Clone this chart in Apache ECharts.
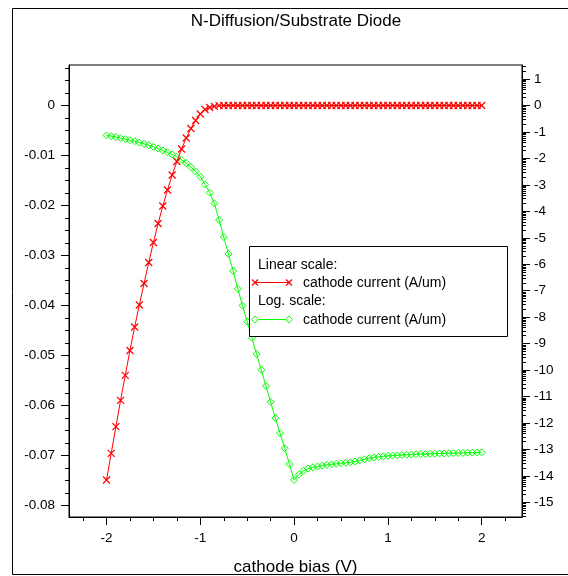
<!DOCTYPE html>
<html><head><meta charset="utf-8">
<script src="https://cdn.jsdelivr.net/npm/echarts@6/dist/echarts.min.js"></script>
<style>html,body{margin:0;padding:0;background:#fff}#c{width:568px;height:576px}</style>
</head><body><div id="c"></div>
<script>
// ---- data ----
const biasV = [-2,-1.95,-1.9,-1.85,-1.8,-1.75,-1.7,-1.65,-1.6,-1.55,-1.5,-1.45,-1.4,-1.35,-1.3,-1.25,-1.2,-1.15,-1.1,-1.05,
  -1,-0.95,-0.9,-0.85,-0.8,-0.75,-0.7,-0.65,-0.6,-0.55,-0.5,-0.45,-0.4,-0.35,-0.3,-0.25,-0.2,-0.15,-0.1,-0.05,
  0,0.05,0.1,0.15,0.2,0.25,0.3,0.35,0.4,0.45,0.5,0.55,0.6,0.65,0.7,0.75,0.8,0.85,0.9,0.95,
  1,1.05,1.1,1.15,1.2,1.25,1.3,1.35,1.4,1.45,1.5,1.55,1.6,1.65,1.7,1.75,1.8,1.85,1.9,1.95,2];
const linearCurrent = [-0.0749,-0.06956,-0.06424,-0.05896,-0.05396,-0.0490,-0.0443,-0.0399,-0.0356,-0.0314,
  -0.0274,-0.0236,-0.0201,-0.0169,-0.0139,-0.0112,-0.0087,-0.0065,-0.0046,-0.0030,
  -0.0017,-0.0008,-0.0004,-0.00016,-0.00004,0,0,0,0,0,0,0,0,0,0,0,0,0,0,0,
  0,0,0,0,0,0,0,0,0,0,0,0,0,0,0,0,0,0,0,0,
  0,0,0,0,0,0,0,0,0,0,0,0,0,0,0,0,0,0,0,0,0];
const logCurrent = [-1.13,-1.16,-1.19,-1.23,-1.27,-1.31,-1.35,-1.40,-1.45,-1.50,
  -1.56,-1.63,-1.70,-1.77,-1.85,-1.94,-2.05,-2.18,-2.33,-2.50,
  -2.69,-2.98,-3.29,-3.70,-4.33,-4.97,-5.61,-6.25,-6.93,-7.56,
  -8.17,-8.78,-9.39,-9.99,-10.60,-11.20,-11.81,-12.38,-12.95,-13.55,
  -14.15,-13.95,-13.80,-13.72,-13.67,-13.64,-13.61,-13.58,-13.56,-13.54,
  -13.52,-13.50,-13.48,-13.45,-13.41,-13.37,-13.33,-13.30,-13.28,-13.26,
  -13.24,-13.23,-13.22,-13.21,-13.20,-13.19,-13.18,-13.17,-13.17,-13.16,
  -13.16,-13.15,-13.15,-13.14,-13.14,-13.13,-13.13,-13.12,-13.12,-13.11,-13.11];
const xTicks = [-2,-1,0,1,2];
const leftTicks = [0,-0.01,-0.02,-0.03,-0.04,-0.05,-0.06,-0.07,-0.08];
const rightTicks = [1,0,-1,-2,-3,-4,-5,-6,-7,-8,-9,-10,-11,-12,-13,-14,-15];
const titleText = 'N-Diffusion/Substrate Diode';
const xName = 'cathode bias (V)';
const legendHead1 = 'Linear scale:';
const legendHead2 = 'Log. scale:';
const legendItem = 'cathode current (A/um)';

// ---- helpers ----
const FONT = '"Liberation Sans", Arial, sans-serif';
const X_MIN = -2.4, X_MAX = 2.43, L_MIN = -0.0823, L_MAX = 0.0081, R_MIN = -15.55, R_MAX = 1.53;
const xMinor = []; for (let k = -9; k <= 9; k++) { if (k % 4 !== 0) xMinor.push(k * 0.25); }
const leftMinor = []; for (let k = -32; k <= 3; k++) { const v = k * 0.0025; if (k % 4 !== 0 && v >= L_MIN && v <= L_MAX) leftMinor.push(v); }
const rightMinor = []; for (let n = -16; n <= 1; n++) { for (let m = 2; m <= 9; m++) { const v = n + Math.log10(m); if (v >= R_MIN && v <= R_MAX) rightMinor.push(v); } }
const redData = biasV.map((x, i) => [x, linearCurrent[i]]);
const greenData = biasV.map((x, i) => [x, logCurrent[i]]);
const RED = '#ff0000', GREEN = '#00ff00';
const crossPath = 'path://M0,0L10,10M10,0L0,10';

function cross(cx, cy, r) {
  return [
    {type:'line', z:102, silent:true, shape:{x1:cx-r,y1:cy-r,x2:cx+r,y2:cy+r}, style:{stroke:RED,lineWidth:1.2}},
    {type:'line', z:102, silent:true, shape:{x1:cx-r,y1:cy+r,x2:cx+r,y2:cy-r}, style:{stroke:RED,lineWidth:1.2}}
  ];
}
function diamond(cx, cy, r) {
  return {type:'polygon', z:102, silent:true, shape:{points:[[cx,cy-r],[cx+r,cy],[cx,cy+r],[cx-r,cy]]}, style:{fill:'#fff',stroke:GREEN,lineWidth:1}};
}
function txt(x, y, s, size, align) {
  return {type:'text', z:103, silent:true, x:x, y:y, style:{text:s, fill:'#000', font: size + 'px ' + FONT, align: align || 'left', verticalAlign:'middle'}};
}

const lineBase = {onZero:false, lineStyle:{color:'#000', width:1}};
const labelBase = {color:'#000', fontSize:13.5, fontFamily:FONT};

const option = {
  animation:false,
  backgroundColor:'#fff',
  grid:{left:69, top:65, right:46, bottom:59, show:true, borderColor:'#000', borderWidth:1,
    backgroundColor:'transparent', containLabel:false, outerBoundsMode:'none'},
  xAxis:[
    {type:'value', min:X_MIN, max:X_MAX, position:'bottom', splitLine:{show:false}, axisLine:lineBase,
      axisTick:{customValues:xTicks, length:8, lineStyle:{color:'#000'}},
      axisLabel:Object.assign({customValues:xTicks, margin:14}, labelBase),
      name:xName, nameLocation:'middle', nameGap:42,
      nameTextStyle:{color:'#000', fontSize:17, fontFamily:FONT}},
    {type:'value', min:X_MIN, max:X_MAX, position:'bottom', splitLine:{show:false},
      axisLine:{show:false, onZero:false}, axisLabel:{show:false},
      axisTick:{customValues:xMinor, length:4, lineStyle:{color:'#000'}}}
  ],
  yAxis:[
    {type:'value', min:L_MIN, max:L_MAX, position:'left', splitLine:{show:false}, axisLine:lineBase,
      axisTick:{customValues:leftTicks, length:8, lineStyle:{color:'#000'}},
      axisLabel:Object.assign({customValues:leftTicks, margin:14,
        formatter:v => Math.abs(v) < 1e-9 ? '0' : v.toFixed(2)}, labelBase)},
    {type:'value', min:L_MIN, max:L_MAX, position:'left', splitLine:{show:false},
      axisLine:{show:false, onZero:false}, axisLabel:{show:false},
      axisTick:{customValues:leftMinor, length:4, lineStyle:{color:'#000'}}},
    {type:'value', min:R_MIN, max:R_MAX, position:'right', splitLine:{show:false}, axisLine:lineBase,
      axisTick:{customValues:rightTicks, length:8, lineStyle:{color:'#000'}},
      axisLabel:Object.assign({customValues:rightTicks, margin:12,
        formatter:v => String(Math.round(v))}, labelBase)},
    {type:'value', min:R_MIN, max:R_MAX, position:'right', splitLine:{show:false},
      axisLine:{show:false, onZero:false}, axisLabel:{show:false},
      axisTick:{customValues:rightMinor, length:4, lineStyle:{color:'#000'}}}
  ],
  series:[
    {type:'line', name:'Linear', xAxisIndex:0, yAxisIndex:0, data:redData,
      symbol:crossPath, symbolSize:7, showSymbol:true, showAllSymbol:true,
      lineStyle:{color:RED, width:1},
      itemStyle:{color:'rgba(0,0,0,0)', borderColor:RED, borderWidth:1.2}, z:3},
    {type:'line', name:'Log', xAxisIndex:0, yAxisIndex:2, data:greenData,
      symbol:'diamond', symbolSize:[7,7], showSymbol:true, showAllSymbol:true,
      lineStyle:{color:GREEN, width:1},
      itemStyle:{color:'rgba(0,0,0,0)', borderColor:GREEN, borderWidth:1}, z:2}
  ],
  graphic:{elements:[
    {type:'rect', z:-10, silent:true, shape:{x:12.5, y:8.5, width:600, height:566}, style:{fill:'none', stroke:'#000', lineWidth:1}},
    txt(296, 21, titleText, 17, 'center'),
    {type:'rect', z:100, silent:true, shape:{x:249.5, y:246.5, width:258, height:90}, style:{fill:'#fff', stroke:'#000', lineWidth:1}},
    txt(258, 265, legendHead1, 14),
    {type:'line', z:101, silent:true, shape:{x1:255,y1:282.5,x2:289,y2:282.5}, style:{stroke:RED,lineWidth:1}},
    ...cross(255, 282.5, 3), ...cross(289, 282.5, 3),
    txt(303, 283, legendItem, 14),
    txt(258, 301.5, legendHead2, 14),
    {type:'line', z:101, silent:true, shape:{x1:255,y1:319.5,x2:289,y2:319.5}, style:{stroke:GREEN,lineWidth:1}},
    diamond(255, 319.5, 3.5), diamond(289, 319.5, 3.5),
    txt(303, 320, legendItem, 14)
  ]}
};
const chart = echarts.init(document.getElementById('c'));
chart.setOption(option);
</script>
</body></html>
